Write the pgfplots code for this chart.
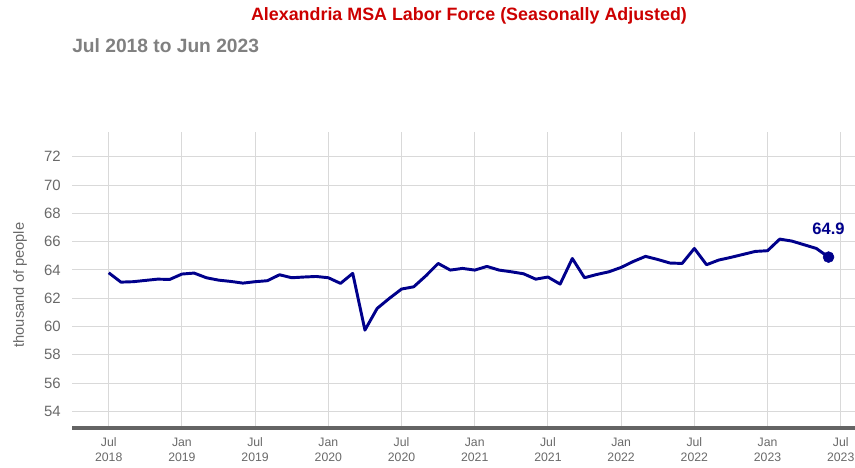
\documentclass[border=0pt]{standalone}
\usepackage{pgfplots}
\pgfplotsset{compat=1.18}
\usepackage{pgfplotstable}
\usepackage{fontspec}
\setmainfont{Liberation Sans}
\definecolor{linecol}{RGB}{0,0,139}
\definecolor{titlered}{RGB}{204,0,0}
\definecolor{subgray}{RGB}{128,128,128}
\definecolor{tickgray}{RGB}{105,105,105}
\definecolor{gridgray}{RGB}{217,217,217}
\definecolor{axgray}{RGB}{100,100,100}

\pgfplotstableread{
m v
0 63.80
1 63.14
2 63.17
3 63.26
4 63.35
5 63.33
6 63.71
7 63.78
8 63.45
9 63.28
10 63.19
11 63.07
12 63.17
13 63.24
14 63.66
15 63.45
16 63.50
17 63.54
18 63.45
19 63.05
20 63.76
21 59.75
22 61.28
23 61.99
24 62.65
25 62.81
26 63.59
27 64.46
28 63.99
29 64.11
30 63.99
31 64.25
32 63.99
33 63.87
34 63.73
35 63.35
36 63.50
37 63.00
38 64.81
39 63.45
40 63.68
41 63.87
42 64.18
43 64.60
44 64.96
45 64.74
46 64.49
47 64.46
48 65.52
49 64.37
50 64.70
51 64.89
52 65.10
53 65.31
54 65.36
55 66.18
56 66.04
57 65.78
58 65.52
59 64.91
}\labordata

\begin{document}
\begin{tikzpicture}
\useasboundingbox (0,0) rectangle (641.25pt,350.25pt);
\node[anchor=center, text=titlered, font=\fontsize{13.4}{15}\selectfont\bfseries] at (351.75pt,338.25pt) {Alexandria MSA Labor Force (Seasonally Adjusted)};
\node[anchor=west, inner sep=0pt, text=subgray, font=\fontsize{14.4}{16}\selectfont\bfseries] at (54pt,315.75pt) {Jul 2018 to Jun 2023};
\node[rotate=90, anchor=center, text=tickgray, font=\fontsize{11}{13}\selectfont] at (15pt,136.5pt) {thousand of people};
\begin{axis}[
  at={(54pt,29.25pt)}, anchor=south west,
  scale only axis,
  width=587.25pt, height=222pt,
  xmin=-3.01, xmax=61.17,
  ymin=52.83, ymax=73.75,
  axis x line*=bottom,
  axis y line*=left,
  y axis line style={draw=none},
  x axis line style={line width=3.5pt, draw=axgray, -},
  xtick={0,6,...,60},
  xticklabels={{Jul\\2018},{Jan\\2019},{Jul\\2019},{Jan\\2020},{Jul\\2020},{Jan\\2021},{Jul\\2021},{Jan\\2022},{Jul\\2022},{Jan\\2023},{Jul\\2023}},
  xticklabel style={align=center, text=tickgray, font=\fontsize{9.2}{11.2}\selectfont, yshift=-4pt},
  ytick={54,56,...,72},
  yticklabel style={text=tickgray, font=\fontsize{11.2}{13}\selectfont, xshift=-5pt},
  /pgf/number format/assume math mode=true,
  major tick length=0pt,
  xmajorgrids, ymajorgrids,
  grid style={draw=gridgray, line width=0.8pt},
  clip=false,
]
\addplot[linecol, line width=2.2pt, line join=round, no markers] table[x=m, y=v] {\labordata};
\addplot[linecol, only marks, mark=*, mark size=4.1pt] coordinates {(59,64.91)};
\node[text=linecol, font=\fontsize{12.4}{14}\selectfont\bfseries] at (axis cs:59,66.9) {64.9};
\end{axis}
\end{tikzpicture}
\end{document}
